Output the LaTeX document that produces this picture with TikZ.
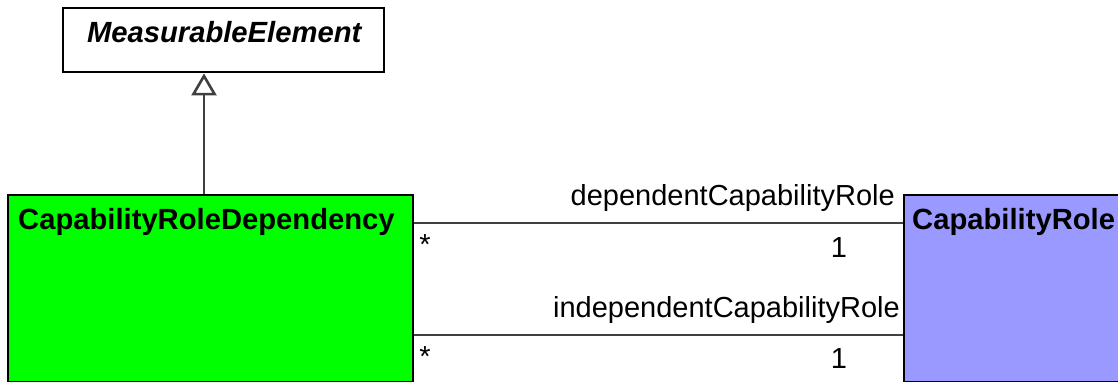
\documentclass[tikz,border=0pt]{standalone}
\usepackage{fontspec}
\setmainfont{Liberation Sans}
\usepackage{xcolor}
\usetikzlibrary{arrows.meta,positioning,calc}
\definecolor{classgreen}{HTML}{00FF00}
\definecolor{classblue}{HTML}{9999FF}
\definecolor{linegray}{HTML}{404040}

\begin{document}
\begin{tikzpicture}[
  x=1pt,y=-1pt,
  font=\fontsize{29}{34}\selectfont,
  cls/.style={draw=black,line width=2.4pt,anchor=north west,inner sep=0pt},
  clsname/.style={anchor=base west,inner sep=0pt,font=\fontsize{29.2}{34}\selectfont\bfseries},
  role/.style={anchor=base east,inner sep=0pt},
  mult/.style={inner sep=0pt},
  assoc/.style={draw=linegray,line width=2.8pt},
  gen/.style={draw=linegray,line width=2.6pt,
              -{Triangle[open,length=22pt,width=25pt,fill=white]}}
]
\useasboundingbox (0,0) rectangle (1118,382);
% ---- classes
\node[cls,fill=white,minimum width=321pt,minimum height=64pt] (meas) at (62,7) {};
\node[anchor=base,inner sep=0pt,font=\fontsize{29.2}{34}\selectfont\bfseries\itshape]
  (measname) at ($(meas.north)+(0.5,36)$) {MeasurableElement};
\node[cls,fill=classgreen,minimum width=405pt,minimum height=187pt] (dep) at (7,194) {};
\node[clsname] (depname) at ($(dep.north west)+(11,35)$) {CapabilityRoleDependency};
\node[cls,fill=classblue,minimum width=230pt,minimum height=187pt] (cap) at (903,194) {};
\node[clsname] (capname) at ($(cap.north west)+(9,35)$) {CapabilityRole};

% ---- generalization
\coordinate (g) at (204,0);
\draw[gen] (g |- dep.north) -- (g |- meas.south);

% ---- associations
\coordinate (r1) at (0,223);
\coordinate (r2) at (0,335);
\draw[assoc] (dep.east |- r1) -- (cap.west |- r1);
\draw[assoc] (dep.east |- r2) -- (cap.west |- r2);
\node[role] (dcr) at (895,205) {dependentCapabilityRole};
\node[role] (icr) at (900,317) {independentCapabilityRole};
\node[mult] (m1a) at (425,245) {*};
\node[mult,anchor=base] (m1b) at (839,257) {1};
\node[mult] (m2a) at (425,357) {*};
\node[mult,anchor=base] (m2b) at (839,368) {1};
\end{tikzpicture}
\end{document}
